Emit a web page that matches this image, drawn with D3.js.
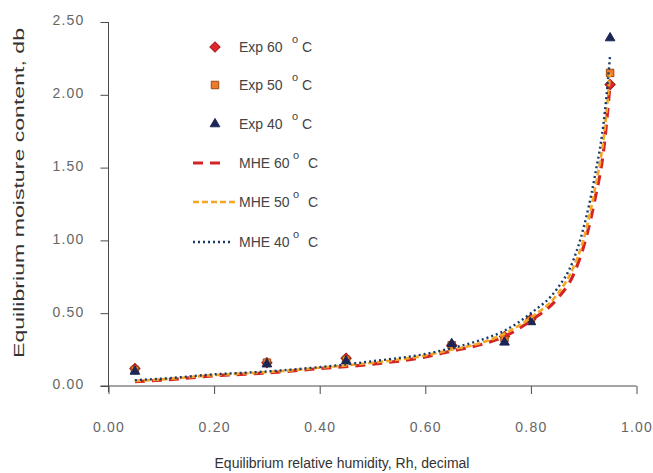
<!DOCTYPE html>
<html>
<head>
<meta charset="utf-8">
<script src="https://cdn.jsdelivr.net/npm/d3@7"></script>
<style>
  html, body { margin: 0; padding: 0; background: #fff; }
  svg { display: block; font-family: "Liberation Sans", Arial, sans-serif; }
</style>
</head>
<body>
<svg id="chart" width="653" height="473"></svg>
<script>
// ---- data ----
const expRh = [0.05, 0.30, 0.45, 0.65, 0.75, 0.80, 0.95];
const exp60 = [0.12, 0.16, 0.19, 0.28, 0.34, 0.46, 2.07];
const exp50 = [0.11, 0.16, 0.18, 0.28, 0.33, 0.45, 2.15];
const exp40 = [0.10, 0.15, 0.17, 0.29, 0.30, 0.44, 2.39];

const mheRh = [0.05, 0.10, 0.20, 0.30, 0.40, 0.50, 0.60, 0.65, 0.70, 0.75, 0.80, 0.85, 0.88, 0.90, 0.92, 0.94, 0.95];
const mhe40 = [0.04, 0.05, 0.08, 0.10, 0.13, 0.17, 0.22, 0.26, 0.31, 0.38, 0.50, 0.67, 0.86, 1.09, 1.42, 1.88, 2.27];
const mhe50 = [0.035, 0.045, 0.075, 0.095, 0.125, 0.16, 0.21, 0.25, 0.29, 0.36, 0.47, 0.63, 0.81, 1.01, 1.33, 1.77, 2.15];
const mhe60 = [0.03, 0.04, 0.07, 0.09, 0.12, 0.15, 0.20, 0.24, 0.28, 0.34, 0.45, 0.60, 0.76, 0.96, 1.26, 1.69, 2.08];

const xTicks = [0, 0.2, 0.4, 0.6, 0.8, 1.0];
const yTicks = [0, 0.5, 1.0, 1.5, 2.0, 2.5];
const legendLabels = ["Exp 60", "Exp 50", "Exp 40", "MHE 60", "MHE 50", "MHE 40"];
const xTitle = "Equilibrium relative humidity, Rh, decimal";
const yTitle = "Equilibrium moisture content, db";

// ---- setup ----
const svg = d3.select("#chart");
const x = d3.scaleLinear().domain([0, 1]).range([108.5, 636.5]);
const y = d3.scaleLinear().domain([0, 2.5]).range([386, 22]);

const axisColor = "#4a4a4a";
const tickText = "#666";

// y axis
const gy = svg.append("g").attr("transform", `translate(${x(0)},0)`)
  .call(d3.axisLeft(y).tickValues(yTicks).tickFormat(d3.format(".2f")).tickSize(8).tickPadding(16));
gy.select(".domain").attr("stroke", axisColor).attr("d", `M0,${y(2.5)}V${y(0) + 6}`);
gy.selectAll(".tick line").attr("stroke", axisColor);
gy.selectAll(".tick text").attr("fill", tickText).attr("font-size", 14).attr("letter-spacing", 1.2)
  .attr("font-family", "Liberation Sans, Arial, sans-serif").attr("dy", "0.2em");

// x axis
const gx = svg.append("g").attr("transform", `translate(0,${y(0)})`)
  .call(d3.axisBottom(x).tickValues(xTicks).tickFormat(d3.format(".2f")).tickSize(8).tickPadding(28));
gx.select(".domain").attr("stroke", axisColor).attr("d", `M${x(0) - 8},0H${x(1)}`);
gx.selectAll(".tick line").attr("stroke", axisColor);
gx.selectAll(".tick text").attr("fill", tickText).attr("font-size", 14).attr("letter-spacing", 1.2)
  .attr("font-family", "Liberation Sans, Arial, sans-serif");

// titles
svg.append("text").attr("x", 342).attr("y", 468).attr("text-anchor", "middle")
  .attr("font-size", 14).attr("fill", "#333").text(xTitle);
svg.append("text").attr("transform", "translate(24,193) rotate(-90)").attr("text-anchor", "middle")
  .attr("font-size", 15.5).attr("fill", "#333")
  .attr("textLength", 330).attr("lengthAdjust", "spacingAndGlyphs").text(yTitle);

// markers
const sym = {
  d60: { type: d3.symbolSquare, size: 52, rot: 45, fill: "#e0282a", stroke: "#a5161a" },
  s50: { type: d3.symbolSquare, size: 56, rot: 0, fill: "#f07a2a", stroke: "#9a4a12" },
  t40: { type: d3.symbolTriangle, size: 40, rot: 0, fill: "#1b2656", stroke: "#1b2656" }
};
function drawPoints(xs, ys, s) {
  svg.append("g").selectAll("path").data(xs.map((d, i) => [d, ys[i]])).join("path")
    .attr("transform", d => `translate(${x(d[0])},${y(d[1])}) rotate(${s.rot})`)
    .attr("d", d3.symbol().type(s.type).size(s.size))
    .attr("fill", s.fill).attr("stroke", s.stroke).attr("stroke-width", 1);
}
drawPoints(expRh, exp60, sym.d60);
drawPoints(expRh, exp50, sym.s50);
drawPoints(expRh, exp40, sym.t40);

// curves
const lineStyles = {
  m60: { color: "#d42424", width: 3.2, dash: "10,7" },
  m50: { color: "#f5a623", width: 2.6, dash: "6,3" },
  m40: { color: "#173a6a", width: 2.4, dash: "2,3" }
};
function drawLine(xs, ys, st) {
  const line = d3.line().x(d => x(d[0])).y(d => y(d[1])).curve(d3.curveMonotoneX);
  svg.append("path").datum(xs.map((d, i) => [d, ys[i]]))
    .attr("d", line).attr("fill", "none")
    .attr("stroke", st.color).attr("stroke-width", st.width).attr("stroke-dasharray", st.dash);
}
drawLine(mheRh, mhe60, lineStyles.m60);
drawLine(mheRh, mhe50, lineStyles.m50);
drawLine(mheRh, mhe40, lineStyles.m40);

// legend
const legendBase = [52, 90, 129, 168, 207, 247];
const legend = svg.append("g");
const legendSyms = [sym.d60, sym.s50, sym.t40];
const legendLines = [
  { st: lineStyles.m60, x1: 193, x2: 226 },
  { st: lineStyles.m50, x1: 193, x2: 237 },
  { st: lineStyles.m40, x1: 193, x2: 233 }
];
legendLabels.forEach((lab, i) => {
  const by = legendBase[i];
  const cy = by - 5;
  if (i < 3) {
    const s = legendSyms[i];
    legend.append("path").attr("transform", `translate(215,${cy}) rotate(${s.rot})`)
      .attr("d", d3.symbol().type(s.type).size(s.size))
      .attr("fill", s.fill).attr("stroke", s.stroke).attr("stroke-width", 1);
  } else {
    const l = legendLines[i - 3];
    legend.append("line").attr("x1", l.x1).attr("x2", l.x2).attr("y1", cy).attr("y2", cy)
      .attr("stroke", l.st.color).attr("stroke-width", l.st.width).attr("stroke-dasharray", l.st.dash);
  }
  legend.append("text").attr("x", 239).attr("y", by).attr("font-size", 14)
    .attr("fill", "#444").text(lab);
  const ox = i < 3 ? 292 : 293;
  const cx = i < 3 ? 302 : 308;
  legend.append("text").attr("x", ox).attr("y", by - 9).attr("font-size", 11)
    .attr("fill", "#444").text("o");
  legend.append("text").attr("x", cx).attr("y", by).attr("font-size", 14)
    .attr("fill", "#444").text("C");
});
</script>
</body>
</html>
